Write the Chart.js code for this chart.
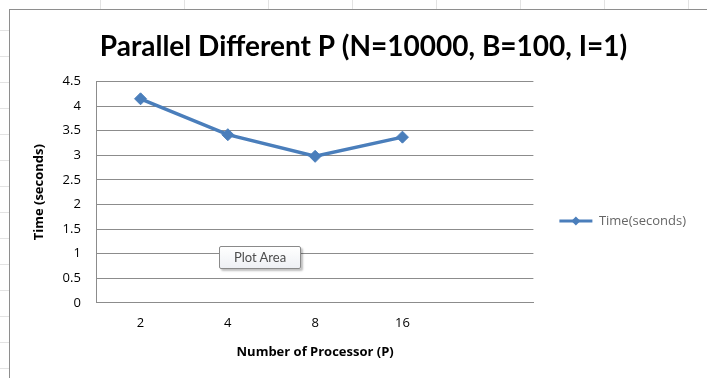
<!DOCTYPE html>
<html>
<head>
<meta charset="utf-8">
<script src="https://cdn.jsdelivr.net/npm/chart.js@4.4.1/dist/chart.umd.min.js"></script>
<style>
  html, body { margin: 0; padding: 0; }
  body {
    width: 707px; height: 378px; overflow: hidden; position: relative;
    background-color: #ffffff;
    background-image:
      repeating-linear-gradient(to bottom, transparent 0 25px, #e3e3e3 25px 26px),
      repeating-linear-gradient(to right, transparent 0 83px, #e3e3e3 83px 84px);
    background-position: 0 5px, 17px 0;
  }
  #frame {
    position: absolute; left: 9px; top: 9px; width: 720px; height: 400px;
    background: #ffffff; border: 1px solid #8e8e8e;
  }
  #wrap { position: absolute; left: 0; top: 0; width: 707px; height: 378px; }
  #tip {
    position: absolute; left: 219px; top: 246px; width: 82px; height: 23px;
    box-sizing: border-box; border: 1px solid #8a8a8a; border-radius: 2px;
    background: linear-gradient(#ffffff, #eef0f4);
    box-shadow: 2px 2px 2px rgba(0,0,0,0.25);
    font: 13px Lato, "Open Sans", sans-serif; color: #4d4d4d;
    text-align: center; line-height: 21px;
  }
</style>
</head>
<body>
<div id="frame"></div>
<div id="wrap"><canvas id="c" width="707" height="378"></canvas></div>
<div id="tip">Plot Area</div>
<script>
// Processor counts (one spare slot on the right, as in the sheet)
const processors = ['2', '4', '8', '16', ''];
// Measured run time in seconds for each processor count
const timeSeconds = [4.15, 3.42, 2.98, 3.37, null];
// Vertical axis tick values
const yTicks = [0, 0.5, 1, 1.5, 2, 2.5, 3, 3.5, 4, 4.5];

const TITLE_FONT = 'Lato, "Open Sans", sans-serif';
const FONT = '"Open Sans", Lato, sans-serif';
const lineBlue = '#4a7ebb';

// Puts the diamond marker in the middle of the legend's line sample
const legendDiamond = {
  id: 'legendDiamond',
  afterDraw(chart) {
    const lg = chart.legend;
    if (!lg || !lg.legendHitBoxes || !lg.legendHitBoxes.length) return;
    const box = lg.legendHitBoxes[0];
    const bw = lg.options.labels.boxWidth;
    const cx = box.left + bw / 2;
    const cy = box.top + box.height / 2;
    const ctx = chart.ctx;
    ctx.save();
    ctx.fillStyle = lineBlue;
    ctx.beginPath();
    ctx.moveTo(cx, cy - 4.5);
    ctx.lineTo(cx + 4.5, cy);
    ctx.lineTo(cx, cy + 4.5);
    ctx.lineTo(cx - 4.5, cy);
    ctx.closePath();
    ctx.fill();
    ctx.restore();
  }
};

new Chart(document.getElementById('c'), {
  type: 'line',
  data: {
    labels: processors,
    datasets: [{
      label: 'Time(seconds)',
      data: timeSeconds,
      borderColor: lineBlue,
      backgroundColor: lineBlue,
      borderWidth: 3.5,
      pointStyle: 'rectRot',
      pointRadius: 6,
      pointHoverRadius: 6,
      pointBorderWidth: 1,
      tension: 0,
      spanGaps: false
    }]
  },
  plugins: [legendDiamond],
  options: {
    responsive: false,
    animation: false,
    devicePixelRatio: 1,
    layout: { padding: { left: 31, right: 11, top: 30, bottom: 18 } },
    plugins: {
      tooltip: { enabled: false },
      title: {
        display: true,
        text: 'Parallel Different P (N=10000, B=100, I=1)',
        color: '#000000',
        font: { family: TITLE_FONT, size: 28, weight: 'bold' },
        padding: { top: 0, bottom: 18 }
      },
      legend: {
        position: 'right',
        title: {
          display: true, text: '',
          font: { family: FONT, size: 10 },
          padding: { top: 20, bottom: 20 }
        },
        labels: {
          color: '#000000',
          font: { family: FONT, size: 13 },
          usePointStyle: false,
          boxWidth: 33,
          boxHeight: 3,
          padding: 26,
          generateLabels(chart) {
            const ds = chart.data.datasets[0];
            return [{
              text: ds.label,
              fillStyle: lineBlue,
              strokeStyle: lineBlue,
              lineWidth: 0,
              datasetIndex: 0
            }];
          }
        }
      }
    },
    scales: {
      x: {
        offset: true,
        grid: { display: false, drawTicks: false },
        border: { display: true, color: '#8c8c8c', width: 1 },
        ticks: {
          color: '#000000', padding: 13,
          font: { family: FONT, size: 13 }, maxRotation: 0
        },
        title: {
          display: true, text: 'Number of Processor (P)', color: '#000000',
          font: { family: FONT, size: 13, weight: 'bold' }, padding: { top: 0, bottom: 0 }
        }
      },
      y: {
        min: 0, max: 4.5,
        afterBuildTicks(axis) { axis.ticks = yTicks.map(v => ({ value: v })); },
        grid: { color: '#8c8c8c', lineWidth: 1, drawTicks: false },
        border: { display: true, color: '#8c8c8c', width: 1 },
        ticks: {
          color: '#000000', padding: 16,
          font: { family: FONT, size: 13 },
          callback: v => String(v)
        },
        title: {
          display: true, text: 'Time (seconds)', color: '#000000',
          font: { family: FONT, size: 13, weight: 'bold' }, padding: { top: 0, bottom: 0 }
        }
      }
    }
  }
});
</script>
</body>
</html>
